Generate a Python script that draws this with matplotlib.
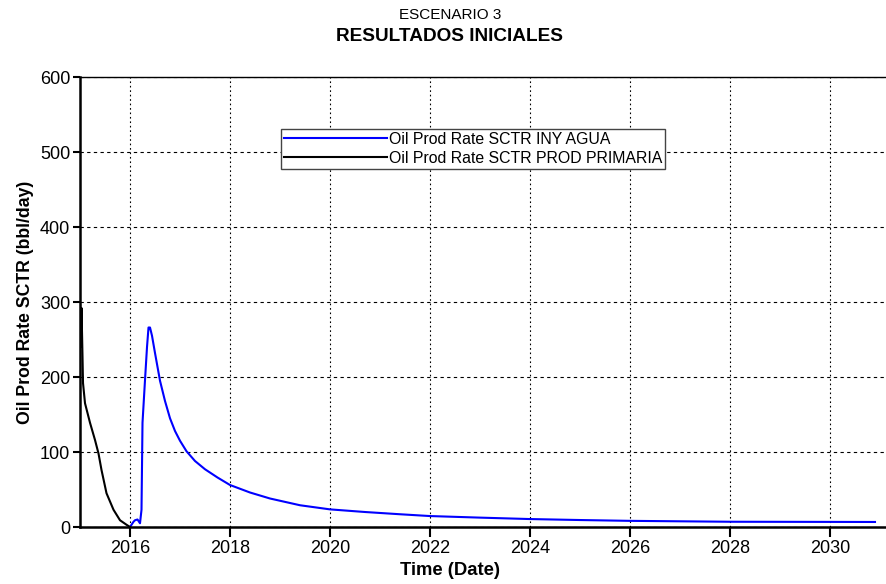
import numpy as np
import matplotlib.pyplot as plt

plt.rcParams['font.family'] = ['Liberation Sans', 'DejaVu Sans']

# water injection case (decimal years, bbl/day)
t_agua = [2016.0, 2016.07, 2016.1, 2016.15, 2016.2, 2016.23, 2016.25, 2016.3, 2016.34,
          2016.37, 2016.4, 2016.44, 2016.5, 2016.6, 2016.7, 2016.8, 2016.9, 2017.0,
          2017.13, 2017.3, 2017.5, 2017.75, 2018.0, 2018.4, 2018.8, 2019.4, 2020.0,
          2020.7, 2021.4, 2022.0, 2023.0, 2024.0, 2025.0, 2026.0, 2027.0, 2028.0,
          2029.0, 2030.0, 2030.9]
q_agua = [0, 7, 9, 10, 5, 23, 139, 196, 240, 266, 266, 255, 232, 195, 168, 145, 128,
          115, 101, 88, 77, 66, 56, 46, 38, 29, 23.5, 20, 17, 14.6, 12.5, 10.6, 9.3,
          8.2, 7.6, 7.0, 6.9, 6.8, 6.7]

# primary production case
t_prim = [2015.0, 2015.02, 2015.03, 2015.05, 2015.06, 2015.1, 2015.2, 2015.3, 2015.37,
          2015.43, 2015.53, 2015.67, 2015.8, 2015.93, 2016.0]
q_prim = [300, 240, 292, 227, 192, 165, 139, 116, 98, 76, 45, 23, 9, 3, 0]

x_ticks = [2016, 2018, 2020, 2022, 2024, 2026, 2028, 2030]
y_ticks = [0, 100, 200, 300, 400, 500, 600]

fig = plt.figure(figsize=(8.87, 5.84), dpi=100)
ax = fig.add_axes([0.0902, 0.0976, 0.9098, 0.7705])

ax.plot(t_agua, q_agua, color='#0000ff', lw=1.5, label='Oil Prod Rate SCTR INY AGUA')
ax.plot(t_prim, q_prim, color='black', lw=1.5, label='Oil Prod Rate SCTR PROD PRIMARIA')

ax.set_xlim(2015.0, 2031.14)
ax.set_ylim(0, 600)
ax.set_xticks(x_ticks)
ax.set_yticks(y_ticks)
ax.tick_params(axis='both', labelsize=13, direction='out', width=1.5)
ax.tick_params(axis='x', length=7, pad=2)
ax.tick_params(axis='y', length=5, pad=2)

ax.xaxis.grid(True, color='black', linestyle=(0, (1.5, 2.5)), lw=0.8)
ax.yaxis.grid(True, color='black', linestyle=(0, (3, 3)), lw=0.8)

ax.spines['left'].set_linewidth(1.8)
ax.spines['bottom'].set_linewidth(1.8)
ax.spines['top'].set_linewidth(1.0)
ax.spines['right'].set_visible(False)

ax.set_xlabel('Time (Date)', fontsize=13.3, fontweight='bold')
ax.xaxis.set_label_coords((450 - 80) / 807, -0.078)
ax.set_ylabel('Oil Prod Rate SCTR (bbl/day)', fontsize=12.7, fontweight='bold', labelpad=4)

fig.text(450 / 887, 0.975, 'ESCENARIO 3', ha='center', va='center', fontsize=11)
fig.text(450 / 887, 0.937, 'RESULTADOS INICIALES', ha='center', va='center',
         fontsize=13.7, fontweight='bold')

leg = ax.legend(loc='upper left', bbox_to_anchor=(0.249, 0.885), fontsize=11.4,
                frameon=True, fancybox=False, edgecolor='#444444', framealpha=1,
                handlelength=6.5, handletextpad=0.1, borderpad=0.2, labelspacing=0.25,
                borderaxespad=0)
leg.get_frame().set_linewidth(1.0)

fig.savefig('out.png', dpi=100)
